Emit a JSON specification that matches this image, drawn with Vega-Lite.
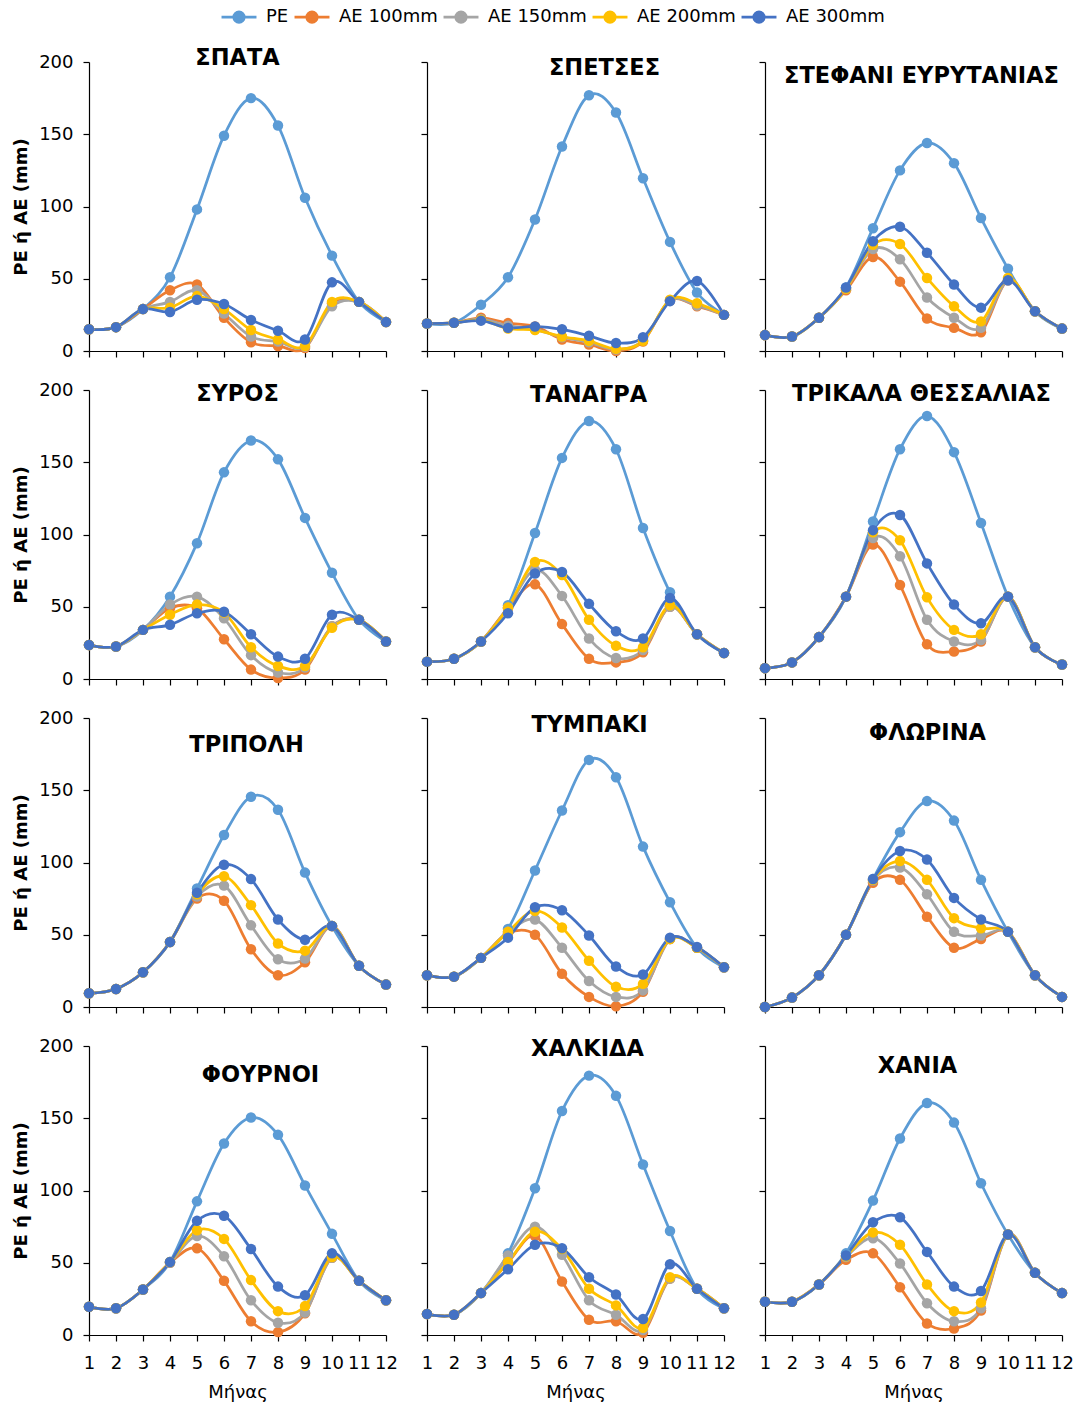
{
"$schema": "https://vega.github.io/schema/vega-lite/v6.json",
"background": "white",
"padding": {"left": 12, "top": 4, "right": 6, "bottom": 4},
"datasets": {"d": [
{"st":"ΣΠΑΤΑ","k":"PE","m":1,"v":15},{"st":"ΣΠΑΤΑ","k":"PE","m":2,"v":16.5},{"st":"ΣΠΑΤΑ","k":"PE","m":3,"v":29},{"st":"ΣΠΑΤΑ","k":"PE","m":4,"v":51},{"st":"ΣΠΑΤΑ","k":"PE","m":5,"v":98},{"st":"ΣΠΑΤΑ","k":"PE","m":6,"v":149},{"st":"ΣΠΑΤΑ","k":"PE","m":7,"v":175},{"st":"ΣΠΑΤΑ","k":"PE","m":8,"v":156},{"st":"ΣΠΑΤΑ","k":"PE","m":9,"v":106},{"st":"ΣΠΑΤΑ","k":"PE","m":10,"v":66},{"st":"ΣΠΑΤΑ","k":"PE","m":11,"v":34},{"st":"ΣΠΑΤΑ","k":"PE","m":12,"v":20},
{"st":"ΣΠΑΤΑ","k":"AE 100mm","m":1,"v":15},{"st":"ΣΠΑΤΑ","k":"AE 100mm","m":2,"v":16.5},{"st":"ΣΠΑΤΑ","k":"AE 100mm","m":3,"v":29},{"st":"ΣΠΑΤΑ","k":"AE 100mm","m":4,"v":42},{"st":"ΣΠΑΤΑ","k":"AE 100mm","m":5,"v":46},{"st":"ΣΠΑΤΑ","k":"AE 100mm","m":6,"v":23},{"st":"ΣΠΑΤΑ","k":"AE 100mm","m":7,"v":6},{"st":"ΣΠΑΤΑ","k":"AE 100mm","m":8,"v":3.5},{"st":"ΣΠΑΤΑ","k":"AE 100mm","m":9,"v":2},{"st":"ΣΠΑΤΑ","k":"AE 100mm","m":10,"v":33},{"st":"ΣΠΑΤΑ","k":"AE 100mm","m":11,"v":34},{"st":"ΣΠΑΤΑ","k":"AE 100mm","m":12,"v":20},
{"st":"ΣΠΑΤΑ","k":"AE 150mm","m":1,"v":15},{"st":"ΣΠΑΤΑ","k":"AE 150mm","m":2,"v":16.5},{"st":"ΣΠΑΤΑ","k":"AE 150mm","m":3,"v":29},{"st":"ΣΠΑΤΑ","k":"AE 150mm","m":4,"v":34},{"st":"ΣΠΑΤΑ","k":"AE 150mm","m":5,"v":42},{"st":"ΣΠΑΤΑ","k":"AE 150mm","m":6,"v":26},{"st":"ΣΠΑΤΑ","k":"AE 150mm","m":7,"v":10},{"st":"ΣΠΑΤΑ","k":"AE 150mm","m":8,"v":6.5},{"st":"ΣΠΑΤΑ","k":"AE 150mm","m":9,"v":3},{"st":"ΣΠΑΤΑ","k":"AE 150mm","m":10,"v":31},{"st":"ΣΠΑΤΑ","k":"AE 150mm","m":11,"v":34},{"st":"ΣΠΑΤΑ","k":"AE 150mm","m":12,"v":20},
{"st":"ΣΠΑΤΑ","k":"AE 200mm","m":1,"v":15},{"st":"ΣΠΑΤΑ","k":"AE 200mm","m":2,"v":16.5},{"st":"ΣΠΑΤΑ","k":"AE 200mm","m":3,"v":29},{"st":"ΣΠΑΤΑ","k":"AE 200mm","m":4,"v":30},{"st":"ΣΠΑΤΑ","k":"AE 200mm","m":5,"v":38},{"st":"ΣΠΑΤΑ","k":"AE 200mm","m":6,"v":29},{"st":"ΣΠΑΤΑ","k":"AE 200mm","m":7,"v":14.5},{"st":"ΣΠΑΤΑ","k":"AE 200mm","m":8,"v":8},{"st":"ΣΠΑΤΑ","k":"AE 200mm","m":9,"v":3.5},{"st":"ΣΠΑΤΑ","k":"AE 200mm","m":10,"v":34},{"st":"ΣΠΑΤΑ","k":"AE 200mm","m":11,"v":34},{"st":"ΣΠΑΤΑ","k":"AE 200mm","m":12,"v":20},
{"st":"ΣΠΑΤΑ","k":"AE 300mm","m":1,"v":15},{"st":"ΣΠΑΤΑ","k":"AE 300mm","m":2,"v":16.5},{"st":"ΣΠΑΤΑ","k":"AE 300mm","m":3,"v":29},{"st":"ΣΠΑΤΑ","k":"AE 300mm","m":4,"v":27},{"st":"ΣΠΑΤΑ","k":"AE 300mm","m":5,"v":35.5},{"st":"ΣΠΑΤΑ","k":"AE 300mm","m":6,"v":32.5},{"st":"ΣΠΑΤΑ","k":"AE 300mm","m":7,"v":21.5},{"st":"ΣΠΑΤΑ","k":"AE 300mm","m":8,"v":14},{"st":"ΣΠΑΤΑ","k":"AE 300mm","m":9,"v":8},{"st":"ΣΠΑΤΑ","k":"AE 300mm","m":10,"v":47.5},{"st":"ΣΠΑΤΑ","k":"AE 300mm","m":11,"v":34},{"st":"ΣΠΑΤΑ","k":"AE 300mm","m":12,"v":20},

{"st":"ΣΠΕΤΣΕΣ","k":"PE","m":1,"v":19},{"st":"ΣΠΕΤΣΕΣ","k":"PE","m":2,"v":19.5},{"st":"ΣΠΕΤΣΕΣ","k":"PE","m":3,"v":32},{"st":"ΣΠΕΤΣΕΣ","k":"PE","m":4,"v":51},{"st":"ΣΠΕΤΣΕΣ","k":"PE","m":5,"v":91},{"st":"ΣΠΕΤΣΕΣ","k":"PE","m":6,"v":141.5},{"st":"ΣΠΕΤΣΕΣ","k":"PE","m":7,"v":177},{"st":"ΣΠΕΤΣΕΣ","k":"PE","m":8,"v":165},{"st":"ΣΠΕΤΣΕΣ","k":"PE","m":9,"v":119.5},{"st":"ΣΠΕΤΣΕΣ","k":"PE","m":10,"v":75.5},{"st":"ΣΠΕΤΣΕΣ","k":"PE","m":11,"v":40.5},{"st":"ΣΠΕΤΣΕΣ","k":"PE","m":12,"v":25},
{"st":"ΣΠΕΤΣΕΣ","k":"AE 100mm","m":1,"v":19},{"st":"ΣΠΕΤΣΕΣ","k":"AE 100mm","m":2,"v":19.5},{"st":"ΣΠΕΤΣΕΣ","k":"AE 100mm","m":3,"v":23},{"st":"ΣΠΕΤΣΕΣ","k":"AE 100mm","m":4,"v":19.3},{"st":"ΣΠΕΤΣΕΣ","k":"AE 100mm","m":5,"v":17},{"st":"ΣΠΕΤΣΕΣ","k":"AE 100mm","m":6,"v":8},{"st":"ΣΠΕΤΣΕΣ","k":"AE 100mm","m":7,"v":4.5},{"st":"ΣΠΕΤΣΕΣ","k":"AE 100mm","m":8,"v":0},{"st":"ΣΠΕΤΣΕΣ","k":"AE 100mm","m":9,"v":6.5},{"st":"ΣΠΕΤΣΕΣ","k":"AE 100mm","m":10,"v":35},{"st":"ΣΠΕΤΣΕΣ","k":"AE 100mm","m":11,"v":31},{"st":"ΣΠΕΤΣΕΣ","k":"AE 100mm","m":12,"v":25},
{"st":"ΣΠΕΤΣΕΣ","k":"AE 150mm","m":1,"v":19},{"st":"ΣΠΕΤΣΕΣ","k":"AE 150mm","m":2,"v":19.5},{"st":"ΣΠΕΤΣΕΣ","k":"AE 150mm","m":3,"v":22},{"st":"ΣΠΕΤΣΕΣ","k":"AE 150mm","m":4,"v":17.5},{"st":"ΣΠΕΤΣΕΣ","k":"AE 150mm","m":5,"v":15},{"st":"ΣΠΕΤΣΕΣ","k":"AE 150mm","m":6,"v":9.5},{"st":"ΣΠΕΤΣΕΣ","k":"AE 150mm","m":7,"v":6},{"st":"ΣΠΕΤΣΕΣ","k":"AE 150mm","m":8,"v":1},{"st":"ΣΠΕΤΣΕΣ","k":"AE 150mm","m":9,"v":7.5},{"st":"ΣΠΕΤΣΕΣ","k":"AE 150mm","m":10,"v":35},{"st":"ΣΠΕΤΣΕΣ","k":"AE 150mm","m":11,"v":31.5},{"st":"ΣΠΕΤΣΕΣ","k":"AE 150mm","m":12,"v":25},
{"st":"ΣΠΕΤΣΕΣ","k":"AE 200mm","m":1,"v":19},{"st":"ΣΠΕΤΣΕΣ","k":"AE 200mm","m":2,"v":19.5},{"st":"ΣΠΕΤΣΕΣ","k":"AE 200mm","m":3,"v":21.5},{"st":"ΣΠΕΤΣΕΣ","k":"AE 200mm","m":4,"v":15.5},{"st":"ΣΠΕΤΣΕΣ","k":"AE 200mm","m":5,"v":14.5},{"st":"ΣΠΕΤΣΕΣ","k":"AE 200mm","m":6,"v":10},{"st":"ΣΠΕΤΣΕΣ","k":"AE 200mm","m":7,"v":7},{"st":"ΣΠΕΤΣΕΣ","k":"AE 200mm","m":8,"v":1.5},{"st":"ΣΠΕΤΣΕΣ","k":"AE 200mm","m":9,"v":7},{"st":"ΣΠΕΤΣΕΣ","k":"AE 200mm","m":10,"v":35.5},{"st":"ΣΠΕΤΣΕΣ","k":"AE 200mm","m":11,"v":33},{"st":"ΣΠΕΤΣΕΣ","k":"AE 200mm","m":12,"v":25},
{"st":"ΣΠΕΤΣΕΣ","k":"AE 300mm","m":1,"v":19},{"st":"ΣΠΕΤΣΕΣ","k":"AE 300mm","m":2,"v":19.5},{"st":"ΣΠΕΤΣΕΣ","k":"AE 300mm","m":3,"v":21},{"st":"ΣΠΕΤΣΕΣ","k":"AE 300mm","m":4,"v":16},{"st":"ΣΠΕΤΣΕΣ","k":"AE 300mm","m":5,"v":17},{"st":"ΣΠΕΤΣΕΣ","k":"AE 300mm","m":6,"v":15},{"st":"ΣΠΕΤΣΕΣ","k":"AE 300mm","m":7,"v":10.5},{"st":"ΣΠΕΤΣΕΣ","k":"AE 300mm","m":8,"v":5.5},{"st":"ΣΠΕΤΣΕΣ","k":"AE 300mm","m":9,"v":9.5},{"st":"ΣΠΕΤΣΕΣ","k":"AE 300mm","m":10,"v":34.5},{"st":"ΣΠΕΤΣΕΣ","k":"AE 300mm","m":11,"v":48.5},{"st":"ΣΠΕΤΣΕΣ","k":"AE 300mm","m":12,"v":25},

{"st":"ΣΤΕΦΑΝΙ ΕΥΡΥΤΑΝΙΑΣ","k":"PE","m":1,"v":11},{"st":"ΣΤΕΦΑΝΙ ΕΥΡΥΤΑΝΙΑΣ","k":"PE","m":2,"v":10},{"st":"ΣΤΕΦΑΝΙ ΕΥΡΥΤΑΝΙΑΣ","k":"PE","m":3,"v":23},{"st":"ΣΤΕΦΑΝΙ ΕΥΡΥΤΑΝΙΑΣ","k":"PE","m":4,"v":44},{"st":"ΣΤΕΦΑΝΙ ΕΥΡΥΤΑΝΙΑΣ","k":"PE","m":5,"v":85},{"st":"ΣΤΕΦΑΝΙ ΕΥΡΥΤΑΝΙΑΣ","k":"PE","m":6,"v":125},{"st":"ΣΤΕΦΑΝΙ ΕΥΡΥΤΑΝΙΑΣ","k":"PE","m":7,"v":144},{"st":"ΣΤΕΦΑΝΙ ΕΥΡΥΤΑΝΙΑΣ","k":"PE","m":8,"v":130},{"st":"ΣΤΕΦΑΝΙ ΕΥΡΥΤΑΝΙΑΣ","k":"PE","m":9,"v":92},{"st":"ΣΤΕΦΑΝΙ ΕΥΡΥΤΑΝΙΑΣ","k":"PE","m":10,"v":57},{"st":"ΣΤΕΦΑΝΙ ΕΥΡΥΤΑΝΙΑΣ","k":"PE","m":11,"v":27.5},{"st":"ΣΤΕΦΑΝΙ ΕΥΡΥΤΑΝΙΑΣ","k":"PE","m":12,"v":15.5},
{"st":"ΣΤΕΦΑΝΙ ΕΥΡΥΤΑΝΙΑΣ","k":"AE 100mm","m":1,"v":11},{"st":"ΣΤΕΦΑΝΙ ΕΥΡΥΤΑΝΙΑΣ","k":"AE 100mm","m":2,"v":10},{"st":"ΣΤΕΦΑΝΙ ΕΥΡΥΤΑΝΙΑΣ","k":"AE 100mm","m":3,"v":23},{"st":"ΣΤΕΦΑΝΙ ΕΥΡΥΤΑΝΙΑΣ","k":"AE 100mm","m":4,"v":42},{"st":"ΣΤΕΦΑΝΙ ΕΥΡΥΤΑΝΙΑΣ","k":"AE 100mm","m":5,"v":65},{"st":"ΣΤΕΦΑΝΙ ΕΥΡΥΤΑΝΙΑΣ","k":"AE 100mm","m":6,"v":48},{"st":"ΣΤΕΦΑΝΙ ΕΥΡΥΤΑΝΙΑΣ","k":"AE 100mm","m":7,"v":22.5},{"st":"ΣΤΕΦΑΝΙ ΕΥΡΥΤΑΝΙΑΣ","k":"AE 100mm","m":8,"v":16},{"st":"ΣΤΕΦΑΝΙ ΕΥΡΥΤΑΝΙΑΣ","k":"AE 100mm","m":9,"v":13},{"st":"ΣΤΕΦΑΝΙ ΕΥΡΥΤΑΝΙΑΣ","k":"AE 100mm","m":10,"v":49},{"st":"ΣΤΕΦΑΝΙ ΕΥΡΥΤΑΝΙΑΣ","k":"AE 100mm","m":11,"v":27.5},{"st":"ΣΤΕΦΑΝΙ ΕΥΡΥΤΑΝΙΑΣ","k":"AE 100mm","m":12,"v":15.5},
{"st":"ΣΤΕΦΑΝΙ ΕΥΡΥΤΑΝΙΑΣ","k":"AE 150mm","m":1,"v":11},{"st":"ΣΤΕΦΑΝΙ ΕΥΡΥΤΑΝΙΑΣ","k":"AE 150mm","m":2,"v":10},{"st":"ΣΤΕΦΑΝΙ ΕΥΡΥΤΑΝΙΑΣ","k":"AE 150mm","m":3,"v":23},{"st":"ΣΤΕΦΑΝΙ ΕΥΡΥΤΑΝΙΑΣ","k":"AE 150mm","m":4,"v":43},{"st":"ΣΤΕΦΑΝΙ ΕΥΡΥΤΑΝΙΑΣ","k":"AE 150mm","m":5,"v":70.5},{"st":"ΣΤΕΦΑΝΙ ΕΥΡΥΤΑΝΙΑΣ","k":"AE 150mm","m":6,"v":63.5},{"st":"ΣΤΕΦΑΝΙ ΕΥΡΥΤΑΝΙΑΣ","k":"AE 150mm","m":7,"v":37},{"st":"ΣΤΕΦΑΝΙ ΕΥΡΥΤΑΝΙΑΣ","k":"AE 150mm","m":8,"v":23},{"st":"ΣΤΕΦΑΝΙ ΕΥΡΥΤΑΝΙΑΣ","k":"AE 150mm","m":9,"v":16},{"st":"ΣΤΕΦΑΝΙ ΕΥΡΥΤΑΝΙΑΣ","k":"AE 150mm","m":10,"v":49},{"st":"ΣΤΕΦΑΝΙ ΕΥΡΥΤΑΝΙΑΣ","k":"AE 150mm","m":11,"v":27.5},{"st":"ΣΤΕΦΑΝΙ ΕΥΡΥΤΑΝΙΑΣ","k":"AE 150mm","m":12,"v":15.5},
{"st":"ΣΤΕΦΑΝΙ ΕΥΡΥΤΑΝΙΑΣ","k":"AE 200mm","m":1,"v":11},{"st":"ΣΤΕΦΑΝΙ ΕΥΡΥΤΑΝΙΑΣ","k":"AE 200mm","m":2,"v":10},{"st":"ΣΤΕΦΑΝΙ ΕΥΡΥΤΑΝΙΑΣ","k":"AE 200mm","m":3,"v":23},{"st":"ΣΤΕΦΑΝΙ ΕΥΡΥΤΑΝΙΑΣ","k":"AE 200mm","m":4,"v":43},{"st":"ΣΤΕΦΑΝΙ ΕΥΡΥΤΑΝΙΑΣ","k":"AE 200mm","m":5,"v":73.5},{"st":"ΣΤΕΦΑΝΙ ΕΥΡΥΤΑΝΙΑΣ","k":"AE 200mm","m":6,"v":74},{"st":"ΣΤΕΦΑΝΙ ΕΥΡΥΤΑΝΙΑΣ","k":"AE 200mm","m":7,"v":50.5},{"st":"ΣΤΕΦΑΝΙ ΕΥΡΥΤΑΝΙΑΣ","k":"AE 200mm","m":8,"v":31},{"st":"ΣΤΕΦΑΝΙ ΕΥΡΥΤΑΝΙΑΣ","k":"AE 200mm","m":9,"v":20.5},{"st":"ΣΤΕΦΑΝΙ ΕΥΡΥΤΑΝΙΑΣ","k":"AE 200mm","m":10,"v":50.5},{"st":"ΣΤΕΦΑΝΙ ΕΥΡΥΤΑΝΙΑΣ","k":"AE 200mm","m":11,"v":27.5},{"st":"ΣΤΕΦΑΝΙ ΕΥΡΥΤΑΝΙΑΣ","k":"AE 200mm","m":12,"v":15.5},
{"st":"ΣΤΕΦΑΝΙ ΕΥΡΥΤΑΝΙΑΣ","k":"AE 300mm","m":1,"v":11},{"st":"ΣΤΕΦΑΝΙ ΕΥΡΥΤΑΝΙΑΣ","k":"AE 300mm","m":2,"v":10},{"st":"ΣΤΕΦΑΝΙ ΕΥΡΥΤΑΝΙΑΣ","k":"AE 300mm","m":3,"v":23},{"st":"ΣΤΕΦΑΝΙ ΕΥΡΥΤΑΝΙΑΣ","k":"AE 300mm","m":4,"v":44},{"st":"ΣΤΕΦΑΝΙ ΕΥΡΥΤΑΝΙΑΣ","k":"AE 300mm","m":5,"v":76},{"st":"ΣΤΕΦΑΝΙ ΕΥΡΥΤΑΝΙΑΣ","k":"AE 300mm","m":6,"v":86},{"st":"ΣΤΕΦΑΝΙ ΕΥΡΥΤΑΝΙΑΣ","k":"AE 300mm","m":7,"v":68},{"st":"ΣΤΕΦΑΝΙ ΕΥΡΥΤΑΝΙΑΣ","k":"AE 300mm","m":8,"v":46},{"st":"ΣΤΕΦΑΝΙ ΕΥΡΥΤΑΝΙΑΣ","k":"AE 300mm","m":9,"v":30},{"st":"ΣΤΕΦΑΝΙ ΕΥΡΥΤΑΝΙΑΣ","k":"AE 300mm","m":10,"v":49},{"st":"ΣΤΕΦΑΝΙ ΕΥΡΥΤΑΝΙΑΣ","k":"AE 300mm","m":11,"v":27.5},{"st":"ΣΤΕΦΑΝΙ ΕΥΡΥΤΑΝΙΑΣ","k":"AE 300mm","m":12,"v":15.5},

{"st":"ΣΥΡΟΣ","k":"PE","m":1,"v":23.5},{"st":"ΣΥΡΟΣ","k":"PE","m":2,"v":22.5},{"st":"ΣΥΡΟΣ","k":"PE","m":3,"v":34},{"st":"ΣΥΡΟΣ","k":"PE","m":4,"v":57},{"st":"ΣΥΡΟΣ","k":"PE","m":5,"v":94},{"st":"ΣΥΡΟΣ","k":"PE","m":6,"v":143},{"st":"ΣΥΡΟΣ","k":"PE","m":7,"v":165},{"st":"ΣΥΡΟΣ","k":"PE","m":8,"v":152},{"st":"ΣΥΡΟΣ","k":"PE","m":9,"v":111.5},{"st":"ΣΥΡΟΣ","k":"PE","m":10,"v":73.5},{"st":"ΣΥΡΟΣ","k":"PE","m":11,"v":41},{"st":"ΣΥΡΟΣ","k":"PE","m":12,"v":26},
{"st":"ΣΥΡΟΣ","k":"AE 100mm","m":1,"v":23.5},{"st":"ΣΥΡΟΣ","k":"AE 100mm","m":2,"v":22.5},{"st":"ΣΥΡΟΣ","k":"AE 100mm","m":3,"v":34},{"st":"ΣΥΡΟΣ","k":"AE 100mm","m":4,"v":49},{"st":"ΣΥΡΟΣ","k":"AE 100mm","m":5,"v":49},{"st":"ΣΥΡΟΣ","k":"AE 100mm","m":6,"v":27.5},{"st":"ΣΥΡΟΣ","k":"AE 100mm","m":7,"v":6.5},{"st":"ΣΥΡΟΣ","k":"AE 100mm","m":8,"v":0.7},{"st":"ΣΥΡΟΣ","k":"AE 100mm","m":9,"v":6.5},{"st":"ΣΥΡΟΣ","k":"AE 100mm","m":10,"v":36.5},{"st":"ΣΥΡΟΣ","k":"AE 100mm","m":11,"v":41},{"st":"ΣΥΡΟΣ","k":"AE 100mm","m":12,"v":26},
{"st":"ΣΥΡΟΣ","k":"AE 150mm","m":1,"v":23.5},{"st":"ΣΥΡΟΣ","k":"AE 150mm","m":2,"v":22.5},{"st":"ΣΥΡΟΣ","k":"AE 150mm","m":3,"v":34},{"st":"ΣΥΡΟΣ","k":"AE 150mm","m":4,"v":51.5},{"st":"ΣΥΡΟΣ","k":"AE 150mm","m":5,"v":57},{"st":"ΣΥΡΟΣ","k":"AE 150mm","m":6,"v":42},{"st":"ΣΥΡΟΣ","k":"AE 150mm","m":7,"v":16.5},{"st":"ΣΥΡΟΣ","k":"AE 150mm","m":8,"v":4.5},{"st":"ΣΥΡΟΣ","k":"AE 150mm","m":9,"v":8},{"st":"ΣΥΡΟΣ","k":"AE 150mm","m":10,"v":36.5},{"st":"ΣΥΡΟΣ","k":"AE 150mm","m":11,"v":41},{"st":"ΣΥΡΟΣ","k":"AE 150mm","m":12,"v":26},
{"st":"ΣΥΡΟΣ","k":"AE 200mm","m":1,"v":23.5},{"st":"ΣΥΡΟΣ","k":"AE 200mm","m":2,"v":22.5},{"st":"ΣΥΡΟΣ","k":"AE 200mm","m":3,"v":34},{"st":"ΣΥΡΟΣ","k":"AE 200mm","m":4,"v":44.5},{"st":"ΣΥΡΟΣ","k":"AE 200mm","m":5,"v":51.5},{"st":"ΣΥΡΟΣ","k":"AE 200mm","m":6,"v":46},{"st":"ΣΥΡΟΣ","k":"AE 200mm","m":7,"v":22},{"st":"ΣΥΡΟΣ","k":"AE 200mm","m":8,"v":9},{"st":"ΣΥΡΟΣ","k":"AE 200mm","m":9,"v":9},{"st":"ΣΥΡΟΣ","k":"AE 200mm","m":10,"v":35.5},{"st":"ΣΥΡΟΣ","k":"AE 200mm","m":11,"v":41},{"st":"ΣΥΡΟΣ","k":"AE 200mm","m":12,"v":26},
{"st":"ΣΥΡΟΣ","k":"AE 300mm","m":1,"v":23.5},{"st":"ΣΥΡΟΣ","k":"AE 300mm","m":2,"v":22.5},{"st":"ΣΥΡΟΣ","k":"AE 300mm","m":3,"v":34},{"st":"ΣΥΡΟΣ","k":"AE 300mm","m":4,"v":37.5},{"st":"ΣΥΡΟΣ","k":"AE 300mm","m":5,"v":45.5},{"st":"ΣΥΡΟΣ","k":"AE 300mm","m":6,"v":46.5},{"st":"ΣΥΡΟΣ","k":"AE 300mm","m":7,"v":31},{"st":"ΣΥΡΟΣ","k":"AE 300mm","m":8,"v":15.5},{"st":"ΣΥΡΟΣ","k":"AE 300mm","m":9,"v":14},{"st":"ΣΥΡΟΣ","k":"AE 300mm","m":10,"v":44.5},{"st":"ΣΥΡΟΣ","k":"AE 300mm","m":11,"v":41},{"st":"ΣΥΡΟΣ","k":"AE 300mm","m":12,"v":26},

{"st":"ΤΑΝΑΓΡΑ","k":"PE","m":1,"v":12},{"st":"ΤΑΝΑΓΡΑ","k":"PE","m":2,"v":14},{"st":"ΤΑΝΑΓΡΑ","k":"PE","m":3,"v":26},{"st":"ΤΑΝΑΓΡΑ","k":"PE","m":4,"v":51},{"st":"ΤΑΝΑΓΡΑ","k":"PE","m":5,"v":101},{"st":"ΤΑΝΑΓΡΑ","k":"PE","m":6,"v":153},{"st":"ΤΑΝΑΓΡΑ","k":"PE","m":7,"v":178.5},{"st":"ΤΑΝΑΓΡΑ","k":"PE","m":8,"v":159},{"st":"ΤΑΝΑΓΡΑ","k":"PE","m":9,"v":104.5},{"st":"ΤΑΝΑΓΡΑ","k":"PE","m":10,"v":60},{"st":"ΤΑΝΑΓΡΑ","k":"PE","m":11,"v":31},{"st":"ΤΑΝΑΓΡΑ","k":"PE","m":12,"v":18},
{"st":"ΤΑΝΑΓΡΑ","k":"AE 100mm","m":1,"v":12},{"st":"ΤΑΝΑΓΡΑ","k":"AE 100mm","m":2,"v":14},{"st":"ΤΑΝΑΓΡΑ","k":"AE 100mm","m":3,"v":26},{"st":"ΤΑΝΑΓΡΑ","k":"AE 100mm","m":4,"v":49},{"st":"ΤΑΝΑΓΡΑ","k":"AE 100mm","m":5,"v":65.5},{"st":"ΤΑΝΑΓΡΑ","k":"AE 100mm","m":6,"v":38},{"st":"ΤΑΝΑΓΡΑ","k":"AE 100mm","m":7,"v":14},{"st":"ΤΑΝΑΓΡΑ","k":"AE 100mm","m":8,"v":11.5},{"st":"ΤΑΝΑΓΡΑ","k":"AE 100mm","m":9,"v":18.5},{"st":"ΤΑΝΑΓΡΑ","k":"AE 100mm","m":10,"v":50},{"st":"ΤΑΝΑΓΡΑ","k":"AE 100mm","m":11,"v":31},{"st":"ΤΑΝΑΓΡΑ","k":"AE 100mm","m":12,"v":18},
{"st":"ΤΑΝΑΓΡΑ","k":"AE 150mm","m":1,"v":12},{"st":"ΤΑΝΑΓΡΑ","k":"AE 150mm","m":2,"v":14},{"st":"ΤΑΝΑΓΡΑ","k":"AE 150mm","m":3,"v":26},{"st":"ΤΑΝΑΓΡΑ","k":"AE 150mm","m":4,"v":49.5},{"st":"ΤΑΝΑΓΡΑ","k":"AE 150mm","m":5,"v":75.5},{"st":"ΤΑΝΑΓΡΑ","k":"AE 150mm","m":6,"v":57.5},{"st":"ΤΑΝΑΓΡΑ","k":"AE 150mm","m":7,"v":28},{"st":"ΤΑΝΑΓΡΑ","k":"AE 150mm","m":8,"v":14.5},{"st":"ΤΑΝΑΓΡΑ","k":"AE 150mm","m":9,"v":20},{"st":"ΤΑΝΑΓΡΑ","k":"AE 150mm","m":10,"v":50},{"st":"ΤΑΝΑΓΡΑ","k":"AE 150mm","m":11,"v":31},{"st":"ΤΑΝΑΓΡΑ","k":"AE 150mm","m":12,"v":18},
{"st":"ΤΑΝΑΓΡΑ","k":"AE 200mm","m":1,"v":12},{"st":"ΤΑΝΑΓΡΑ","k":"AE 200mm","m":2,"v":14},{"st":"ΤΑΝΑΓΡΑ","k":"AE 200mm","m":3,"v":26},{"st":"ΤΑΝΑΓΡΑ","k":"AE 200mm","m":4,"v":49.5},{"st":"ΤΑΝΑΓΡΑ","k":"AE 200mm","m":5,"v":81},{"st":"ΤΑΝΑΓΡΑ","k":"AE 200mm","m":6,"v":72},{"st":"ΤΑΝΑΓΡΑ","k":"AE 200mm","m":7,"v":41},{"st":"ΤΑΝΑΓΡΑ","k":"AE 200mm","m":8,"v":23},{"st":"ΤΑΝΑΓΡΑ","k":"AE 200mm","m":9,"v":22},{"st":"ΤΑΝΑΓΡΑ","k":"AE 200mm","m":10,"v":51},{"st":"ΤΑΝΑΓΡΑ","k":"AE 200mm","m":11,"v":31},{"st":"ΤΑΝΑΓΡΑ","k":"AE 200mm","m":12,"v":18},
{"st":"ΤΑΝΑΓΡΑ","k":"AE 300mm","m":1,"v":12},{"st":"ΤΑΝΑΓΡΑ","k":"AE 300mm","m":2,"v":14},{"st":"ΤΑΝΑΓΡΑ","k":"AE 300mm","m":3,"v":26},{"st":"ΤΑΝΑΓΡΑ","k":"AE 300mm","m":4,"v":45.5},{"st":"ΤΑΝΑΓΡΑ","k":"AE 300mm","m":5,"v":73},{"st":"ΤΑΝΑΓΡΑ","k":"AE 300mm","m":6,"v":74},{"st":"ΤΑΝΑΓΡΑ","k":"AE 300mm","m":7,"v":52},{"st":"ΤΑΝΑΓΡΑ","k":"AE 300mm","m":8,"v":33},{"st":"ΤΑΝΑΓΡΑ","k":"AE 300mm","m":9,"v":28},{"st":"ΤΑΝΑΓΡΑ","k":"AE 300mm","m":10,"v":56},{"st":"ΤΑΝΑΓΡΑ","k":"AE 300mm","m":11,"v":31},{"st":"ΤΑΝΑΓΡΑ","k":"AE 300mm","m":12,"v":18},

{"st":"ΤΡΙΚΑΛΑ ΘΕΣΣΑΛΙΑΣ","k":"PE","m":1,"v":7.5},{"st":"ΤΡΙΚΑΛΑ ΘΕΣΣΑΛΙΑΣ","k":"PE","m":2,"v":11.5},{"st":"ΤΡΙΚΑΛΑ ΘΕΣΣΑΛΙΑΣ","k":"PE","m":3,"v":29},{"st":"ΤΡΙΚΑΛΑ ΘΕΣΣΑΛΙΑΣ","k":"PE","m":4,"v":57},{"st":"ΤΡΙΚΑΛΑ ΘΕΣΣΑΛΙΑΣ","k":"PE","m":5,"v":109},{"st":"ΤΡΙΚΑΛΑ ΘΕΣΣΑΛΙΑΣ","k":"PE","m":6,"v":159},{"st":"ΤΡΙΚΑΛΑ ΘΕΣΣΑΛΙΑΣ","k":"PE","m":7,"v":182},{"st":"ΤΡΙΚΑΛΑ ΘΕΣΣΑΛΙΑΣ","k":"PE","m":8,"v":157},{"st":"ΤΡΙΚΑΛΑ ΘΕΣΣΑΛΙΑΣ","k":"PE","m":9,"v":108},{"st":"ΤΡΙΚΑΛΑ ΘΕΣΣΑΛΙΑΣ","k":"PE","m":10,"v":57},{"st":"ΤΡΙΚΑΛΑ ΘΕΣΣΑΛΙΑΣ","k":"PE","m":11,"v":22},{"st":"ΤΡΙΚΑΛΑ ΘΕΣΣΑΛΙΑΣ","k":"PE","m":12,"v":10},
{"st":"ΤΡΙΚΑΛΑ ΘΕΣΣΑΛΙΑΣ","k":"AE 100mm","m":1,"v":7.5},{"st":"ΤΡΙΚΑΛΑ ΘΕΣΣΑΛΙΑΣ","k":"AE 100mm","m":2,"v":11.5},{"st":"ΤΡΙΚΑΛΑ ΘΕΣΣΑΛΙΑΣ","k":"AE 100mm","m":3,"v":29},{"st":"ΤΡΙΚΑΛΑ ΘΕΣΣΑΛΙΑΣ","k":"AE 100mm","m":4,"v":57},{"st":"ΤΡΙΚΑΛΑ ΘΕΣΣΑΛΙΑΣ","k":"AE 100mm","m":5,"v":93},{"st":"ΤΡΙΚΑΛΑ ΘΕΣΣΑΛΙΑΣ","k":"AE 100mm","m":6,"v":65},{"st":"ΤΡΙΚΑΛΑ ΘΕΣΣΑΛΙΑΣ","k":"AE 100mm","m":7,"v":24},{"st":"ΤΡΙΚΑΛΑ ΘΕΣΣΑΛΙΑΣ","k":"AE 100mm","m":8,"v":19},{"st":"ΤΡΙΚΑΛΑ ΘΕΣΣΑΛΙΑΣ","k":"AE 100mm","m":9,"v":26},{"st":"ΤΡΙΚΑΛΑ ΘΕΣΣΑΛΙΑΣ","k":"AE 100mm","m":10,"v":57},{"st":"ΤΡΙΚΑΛΑ ΘΕΣΣΑΛΙΑΣ","k":"AE 100mm","m":11,"v":22},{"st":"ΤΡΙΚΑΛΑ ΘΕΣΣΑΛΙΑΣ","k":"AE 100mm","m":12,"v":10},
{"st":"ΤΡΙΚΑΛΑ ΘΕΣΣΑΛΙΑΣ","k":"AE 150mm","m":1,"v":7.5},{"st":"ΤΡΙΚΑΛΑ ΘΕΣΣΑΛΙΑΣ","k":"AE 150mm","m":2,"v":11.5},{"st":"ΤΡΙΚΑΛΑ ΘΕΣΣΑΛΙΑΣ","k":"AE 150mm","m":3,"v":29},{"st":"ΤΡΙΚΑΛΑ ΘΕΣΣΑΛΙΑΣ","k":"AE 150mm","m":4,"v":57},{"st":"ΤΡΙΚΑΛΑ ΘΕΣΣΑΛΙΑΣ","k":"AE 150mm","m":5,"v":97.5},{"st":"ΤΡΙΚΑΛΑ ΘΕΣΣΑΛΙΑΣ","k":"AE 150mm","m":6,"v":85},{"st":"ΤΡΙΚΑΛΑ ΘΕΣΣΑΛΙΑΣ","k":"AE 150mm","m":7,"v":41},{"st":"ΤΡΙΚΑΛΑ ΘΕΣΣΑΛΙΑΣ","k":"AE 150mm","m":8,"v":26},{"st":"ΤΡΙΚΑΛΑ ΘΕΣΣΑΛΙΑΣ","k":"AE 150mm","m":9,"v":27},{"st":"ΤΡΙΚΑΛΑ ΘΕΣΣΑΛΙΑΣ","k":"AE 150mm","m":10,"v":57},{"st":"ΤΡΙΚΑΛΑ ΘΕΣΣΑΛΙΑΣ","k":"AE 150mm","m":11,"v":22},{"st":"ΤΡΙΚΑΛΑ ΘΕΣΣΑΛΙΑΣ","k":"AE 150mm","m":12,"v":10},
{"st":"ΤΡΙΚΑΛΑ ΘΕΣΣΑΛΙΑΣ","k":"AE 200mm","m":1,"v":7.5},{"st":"ΤΡΙΚΑΛΑ ΘΕΣΣΑΛΙΑΣ","k":"AE 200mm","m":2,"v":11.5},{"st":"ΤΡΙΚΑΛΑ ΘΕΣΣΑΛΙΑΣ","k":"AE 200mm","m":3,"v":29},{"st":"ΤΡΙΚΑΛΑ ΘΕΣΣΑΛΙΑΣ","k":"AE 200mm","m":4,"v":57},{"st":"ΤΡΙΚΑΛΑ ΘΕΣΣΑΛΙΑΣ","k":"AE 200mm","m":5,"v":101.5},{"st":"ΤΡΙΚΑΛΑ ΘΕΣΣΑΛΙΑΣ","k":"AE 200mm","m":6,"v":96},{"st":"ΤΡΙΚΑΛΑ ΘΕΣΣΑΛΙΑΣ","k":"AE 200mm","m":7,"v":56.5},{"st":"ΤΡΙΚΑΛΑ ΘΕΣΣΑΛΙΑΣ","k":"AE 200mm","m":8,"v":34},{"st":"ΤΡΙΚΑΛΑ ΘΕΣΣΑΛΙΑΣ","k":"AE 200mm","m":9,"v":31},{"st":"ΤΡΙΚΑΛΑ ΘΕΣΣΑΛΙΑΣ","k":"AE 200mm","m":10,"v":57},{"st":"ΤΡΙΚΑΛΑ ΘΕΣΣΑΛΙΑΣ","k":"AE 200mm","m":11,"v":22},{"st":"ΤΡΙΚΑΛΑ ΘΕΣΣΑΛΙΑΣ","k":"AE 200mm","m":12,"v":10},
{"st":"ΤΡΙΚΑΛΑ ΘΕΣΣΑΛΙΑΣ","k":"AE 300mm","m":1,"v":7.5},{"st":"ΤΡΙΚΑΛΑ ΘΕΣΣΑΛΙΑΣ","k":"AE 300mm","m":2,"v":11.5},{"st":"ΤΡΙΚΑΛΑ ΘΕΣΣΑΛΙΑΣ","k":"AE 300mm","m":3,"v":29},{"st":"ΤΡΙΚΑΛΑ ΘΕΣΣΑΛΙΑΣ","k":"AE 300mm","m":4,"v":57},{"st":"ΤΡΙΚΑΛΑ ΘΕΣΣΑΛΙΑΣ","k":"AE 300mm","m":5,"v":103},{"st":"ΤΡΙΚΑΛΑ ΘΕΣΣΑΛΙΑΣ","k":"AE 300mm","m":6,"v":113.5},{"st":"ΤΡΙΚΑΛΑ ΘΕΣΣΑΛΙΑΣ","k":"AE 300mm","m":7,"v":80},{"st":"ΤΡΙΚΑΛΑ ΘΕΣΣΑΛΙΑΣ","k":"AE 300mm","m":8,"v":51.5},{"st":"ΤΡΙΚΑΛΑ ΘΕΣΣΑΛΙΑΣ","k":"AE 300mm","m":9,"v":38.5},{"st":"ΤΡΙΚΑΛΑ ΘΕΣΣΑΛΙΑΣ","k":"AE 300mm","m":10,"v":57},{"st":"ΤΡΙΚΑΛΑ ΘΕΣΣΑΛΙΑΣ","k":"AE 300mm","m":11,"v":22},{"st":"ΤΡΙΚΑΛΑ ΘΕΣΣΑΛΙΑΣ","k":"AE 300mm","m":12,"v":10},

{"st":"ΤΡΙΠΟΛΗ","k":"PE","m":1,"v":9.5},{"st":"ΤΡΙΠΟΛΗ","k":"PE","m":2,"v":12.5},{"st":"ΤΡΙΠΟΛΗ","k":"PE","m":3,"v":24},{"st":"ΤΡΙΠΟΛΗ","k":"PE","m":4,"v":45},{"st":"ΤΡΙΠΟΛΗ","k":"PE","m":5,"v":82},{"st":"ΤΡΙΠΟΛΗ","k":"PE","m":6,"v":119},{"st":"ΤΡΙΠΟΛΗ","k":"PE","m":7,"v":145.5},{"st":"ΤΡΙΠΟΛΗ","k":"PE","m":8,"v":136.5},{"st":"ΤΡΙΠΟΛΗ","k":"PE","m":9,"v":93},{"st":"ΤΡΙΠΟΛΗ","k":"PE","m":10,"v":56},{"st":"ΤΡΙΠΟΛΗ","k":"PE","m":11,"v":28.5},{"st":"ΤΡΙΠΟΛΗ","k":"PE","m":12,"v":15.5},
{"st":"ΤΡΙΠΟΛΗ","k":"AE 100mm","m":1,"v":9.5},{"st":"ΤΡΙΠΟΛΗ","k":"AE 100mm","m":2,"v":12.5},{"st":"ΤΡΙΠΟΛΗ","k":"AE 100mm","m":3,"v":24},{"st":"ΤΡΙΠΟΛΗ","k":"AE 100mm","m":4,"v":45},{"st":"ΤΡΙΠΟΛΗ","k":"AE 100mm","m":5,"v":75},{"st":"ΤΡΙΠΟΛΗ","k":"AE 100mm","m":6,"v":73.5},{"st":"ΤΡΙΠΟΛΗ","k":"AE 100mm","m":7,"v":40},{"st":"ΤΡΙΠΟΛΗ","k":"AE 100mm","m":8,"v":22},{"st":"ΤΡΙΠΟΛΗ","k":"AE 100mm","m":9,"v":31},{"st":"ΤΡΙΠΟΛΗ","k":"AE 100mm","m":10,"v":56},{"st":"ΤΡΙΠΟΛΗ","k":"AE 100mm","m":11,"v":28.5},{"st":"ΤΡΙΠΟΛΗ","k":"AE 100mm","m":12,"v":15.5},
{"st":"ΤΡΙΠΟΛΗ","k":"AE 150mm","m":1,"v":9.5},{"st":"ΤΡΙΠΟΛΗ","k":"AE 150mm","m":2,"v":12.5},{"st":"ΤΡΙΠΟΛΗ","k":"AE 150mm","m":3,"v":24},{"st":"ΤΡΙΠΟΛΗ","k":"AE 150mm","m":4,"v":45},{"st":"ΤΡΙΠΟΛΗ","k":"AE 150mm","m":5,"v":76.5},{"st":"ΤΡΙΠΟΛΗ","k":"AE 150mm","m":6,"v":84},{"st":"ΤΡΙΠΟΛΗ","k":"AE 150mm","m":7,"v":56.5},{"st":"ΤΡΙΠΟΛΗ","k":"AE 150mm","m":8,"v":33},{"st":"ΤΡΙΠΟΛΗ","k":"AE 150mm","m":9,"v":33.5},{"st":"ΤΡΙΠΟΛΗ","k":"AE 150mm","m":10,"v":56},{"st":"ΤΡΙΠΟΛΗ","k":"AE 150mm","m":11,"v":28.5},{"st":"ΤΡΙΠΟΛΗ","k":"AE 150mm","m":12,"v":15.5},
{"st":"ΤΡΙΠΟΛΗ","k":"AE 200mm","m":1,"v":9.5},{"st":"ΤΡΙΠΟΛΗ","k":"AE 200mm","m":2,"v":12.5},{"st":"ΤΡΙΠΟΛΗ","k":"AE 200mm","m":3,"v":24},{"st":"ΤΡΙΠΟΛΗ","k":"AE 200mm","m":4,"v":45},{"st":"ΤΡΙΠΟΛΗ","k":"AE 200mm","m":5,"v":78},{"st":"ΤΡΙΠΟΛΗ","k":"AE 200mm","m":6,"v":90.5},{"st":"ΤΡΙΠΟΛΗ","k":"AE 200mm","m":7,"v":70.5},{"st":"ΤΡΙΠΟΛΗ","k":"AE 200mm","m":8,"v":44},{"st":"ΤΡΙΠΟΛΗ","k":"AE 200mm","m":9,"v":39},{"st":"ΤΡΙΠΟΛΗ","k":"AE 200mm","m":10,"v":56},{"st":"ΤΡΙΠΟΛΗ","k":"AE 200mm","m":11,"v":28.5},{"st":"ΤΡΙΠΟΛΗ","k":"AE 200mm","m":12,"v":15.5},
{"st":"ΤΡΙΠΟΛΗ","k":"AE 300mm","m":1,"v":9.5},{"st":"ΤΡΙΠΟΛΗ","k":"AE 300mm","m":2,"v":12.5},{"st":"ΤΡΙΠΟΛΗ","k":"AE 300mm","m":3,"v":24},{"st":"ΤΡΙΠΟΛΗ","k":"AE 300mm","m":4,"v":45},{"st":"ΤΡΙΠΟΛΗ","k":"AE 300mm","m":5,"v":79},{"st":"ΤΡΙΠΟΛΗ","k":"AE 300mm","m":6,"v":98.5},{"st":"ΤΡΙΠΟΛΗ","k":"AE 300mm","m":7,"v":88.5},{"st":"ΤΡΙΠΟΛΗ","k":"AE 300mm","m":8,"v":60.5},{"st":"ΤΡΙΠΟΛΗ","k":"AE 300mm","m":9,"v":46.5},{"st":"ΤΡΙΠΟΛΗ","k":"AE 300mm","m":10,"v":56},{"st":"ΤΡΙΠΟΛΗ","k":"AE 300mm","m":11,"v":28.5},{"st":"ΤΡΙΠΟΛΗ","k":"AE 300mm","m":12,"v":15.5},

{"st":"ΤΥΜΠΑΚΙ","k":"PE","m":1,"v":22},{"st":"ΤΥΜΠΑΚΙ","k":"PE","m":2,"v":21},{"st":"ΤΥΜΠΑΚΙ","k":"PE","m":3,"v":34},{"st":"ΤΥΜΠΑΚΙ","k":"PE","m":4,"v":54},{"st":"ΤΥΜΠΑΚΙ","k":"PE","m":5,"v":94.5},{"st":"ΤΥΜΠΑΚΙ","k":"PE","m":6,"v":136},{"st":"ΤΥΜΠΑΚΙ","k":"PE","m":7,"v":171},{"st":"ΤΥΜΠΑΚΙ","k":"PE","m":8,"v":159},{"st":"ΤΥΜΠΑΚΙ","k":"PE","m":9,"v":111},{"st":"ΤΥΜΠΑΚΙ","k":"PE","m":10,"v":72.5},{"st":"ΤΥΜΠΑΚΙ","k":"PE","m":11,"v":41},{"st":"ΤΥΜΠΑΚΙ","k":"PE","m":12,"v":27.5},
{"st":"ΤΥΜΠΑΚΙ","k":"AE 100mm","m":1,"v":22},{"st":"ΤΥΜΠΑΚΙ","k":"AE 100mm","m":2,"v":21},{"st":"ΤΥΜΠΑΚΙ","k":"AE 100mm","m":3,"v":34},{"st":"ΤΥΜΠΑΚΙ","k":"AE 100mm","m":4,"v":51},{"st":"ΤΥΜΠΑΚΙ","k":"AE 100mm","m":5,"v":50},{"st":"ΤΥΜΠΑΚΙ","k":"AE 100mm","m":6,"v":23},{"st":"ΤΥΜΠΑΚΙ","k":"AE 100mm","m":7,"v":7},{"st":"ΤΥΜΠΑΚΙ","k":"AE 100mm","m":8,"v":0.5},{"st":"ΤΥΜΠΑΚΙ","k":"AE 100mm","m":9,"v":10.5},{"st":"ΤΥΜΠΑΚΙ","k":"AE 100mm","m":10,"v":47},{"st":"ΤΥΜΠΑΚΙ","k":"AE 100mm","m":11,"v":41},{"st":"ΤΥΜΠΑΚΙ","k":"AE 100mm","m":12,"v":27.5},
{"st":"ΤΥΜΠΑΚΙ","k":"AE 150mm","m":1,"v":22},{"st":"ΤΥΜΠΑΚΙ","k":"AE 150mm","m":2,"v":21},{"st":"ΤΥΜΠΑΚΙ","k":"AE 150mm","m":3,"v":34},{"st":"ΤΥΜΠΑΚΙ","k":"AE 150mm","m":4,"v":52},{"st":"ΤΥΜΠΑΚΙ","k":"AE 150mm","m":5,"v":60.5},{"st":"ΤΥΜΠΑΚΙ","k":"AE 150mm","m":6,"v":41},{"st":"ΤΥΜΠΑΚΙ","k":"AE 150mm","m":7,"v":18},{"st":"ΤΥΜΠΑΚΙ","k":"AE 150mm","m":8,"v":7},{"st":"ΤΥΜΠΑΚΙ","k":"AE 150mm","m":9,"v":11.5},{"st":"ΤΥΜΠΑΚΙ","k":"AE 150mm","m":10,"v":47},{"st":"ΤΥΜΠΑΚΙ","k":"AE 150mm","m":11,"v":41},{"st":"ΤΥΜΠΑΚΙ","k":"AE 150mm","m":12,"v":27.5},
{"st":"ΤΥΜΠΑΚΙ","k":"AE 200mm","m":1,"v":22},{"st":"ΤΥΜΠΑΚΙ","k":"AE 200mm","m":2,"v":21},{"st":"ΤΥΜΠΑΚΙ","k":"AE 200mm","m":3,"v":34},{"st":"ΤΥΜΠΑΚΙ","k":"AE 200mm","m":4,"v":52},{"st":"ΤΥΜΠΑΚΙ","k":"AE 200mm","m":5,"v":66.5},{"st":"ΤΥΜΠΑΚΙ","k":"AE 200mm","m":6,"v":55},{"st":"ΤΥΜΠΑΚΙ","k":"AE 200mm","m":7,"v":32},{"st":"ΤΥΜΠΑΚΙ","k":"AE 200mm","m":8,"v":14},{"st":"ΤΥΜΠΑΚΙ","k":"AE 200mm","m":9,"v":16},{"st":"ΤΥΜΠΑΚΙ","k":"AE 200mm","m":10,"v":47},{"st":"ΤΥΜΠΑΚΙ","k":"AE 200mm","m":11,"v":41},{"st":"ΤΥΜΠΑΚΙ","k":"AE 200mm","m":12,"v":27.5},
{"st":"ΤΥΜΠΑΚΙ","k":"AE 300mm","m":1,"v":22},{"st":"ΤΥΜΠΑΚΙ","k":"AE 300mm","m":2,"v":21},{"st":"ΤΥΜΠΑΚΙ","k":"AE 300mm","m":3,"v":34},{"st":"ΤΥΜΠΑΚΙ","k":"AE 300mm","m":4,"v":48},{"st":"ΤΥΜΠΑΚΙ","k":"AE 300mm","m":5,"v":69},{"st":"ΤΥΜΠΑΚΙ","k":"AE 300mm","m":6,"v":67},{"st":"ΤΥΜΠΑΚΙ","k":"AE 300mm","m":7,"v":49.5},{"st":"ΤΥΜΠΑΚΙ","k":"AE 300mm","m":8,"v":28},{"st":"ΤΥΜΠΑΚΙ","k":"AE 300mm","m":9,"v":22.5},{"st":"ΤΥΜΠΑΚΙ","k":"AE 300mm","m":10,"v":48},{"st":"ΤΥΜΠΑΚΙ","k":"AE 300mm","m":11,"v":41.5},{"st":"ΤΥΜΠΑΚΙ","k":"AE 300mm","m":12,"v":27.5},

{"st":"ΦΛΩΡΙΝΑ","k":"PE","m":1,"v":0},{"st":"ΦΛΩΡΙΝΑ","k":"PE","m":2,"v":6.5},{"st":"ΦΛΩΡΙΝΑ","k":"PE","m":3,"v":22},{"st":"ΦΛΩΡΙΝΑ","k":"PE","m":4,"v":50},{"st":"ΦΛΩΡΙΝΑ","k":"PE","m":5,"v":88.5},{"st":"ΦΛΩΡΙΝΑ","k":"PE","m":6,"v":121},{"st":"ΦΛΩΡΙΝΑ","k":"PE","m":7,"v":142.5},{"st":"ΦΛΩΡΙΝΑ","k":"PE","m":8,"v":129},{"st":"ΦΛΩΡΙΝΑ","k":"PE","m":9,"v":88},{"st":"ΦΛΩΡΙΝΑ","k":"PE","m":10,"v":52},{"st":"ΦΛΩΡΙΝΑ","k":"PE","m":11,"v":22},{"st":"ΦΛΩΡΙΝΑ","k":"PE","m":12,"v":7},
{"st":"ΦΛΩΡΙΝΑ","k":"AE 100mm","m":1,"v":0},{"st":"ΦΛΩΡΙΝΑ","k":"AE 100mm","m":2,"v":6.5},{"st":"ΦΛΩΡΙΝΑ","k":"AE 100mm","m":3,"v":22},{"st":"ΦΛΩΡΙΝΑ","k":"AE 100mm","m":4,"v":50},{"st":"ΦΛΩΡΙΝΑ","k":"AE 100mm","m":5,"v":86},{"st":"ΦΛΩΡΙΝΑ","k":"AE 100mm","m":6,"v":88},{"st":"ΦΛΩΡΙΝΑ","k":"AE 100mm","m":7,"v":62.5},{"st":"ΦΛΩΡΙΝΑ","k":"AE 100mm","m":8,"v":41},{"st":"ΦΛΩΡΙΝΑ","k":"AE 100mm","m":9,"v":47},{"st":"ΦΛΩΡΙΝΑ","k":"AE 100mm","m":10,"v":52},{"st":"ΦΛΩΡΙΝΑ","k":"AE 100mm","m":11,"v":22},{"st":"ΦΛΩΡΙΝΑ","k":"AE 100mm","m":12,"v":7},
{"st":"ΦΛΩΡΙΝΑ","k":"AE 150mm","m":1,"v":0},{"st":"ΦΛΩΡΙΝΑ","k":"AE 150mm","m":2,"v":6.5},{"st":"ΦΛΩΡΙΝΑ","k":"AE 150mm","m":3,"v":22},{"st":"ΦΛΩΡΙΝΑ","k":"AE 150mm","m":4,"v":50},{"st":"ΦΛΩΡΙΝΑ","k":"AE 150mm","m":5,"v":87.5},{"st":"ΦΛΩΡΙΝΑ","k":"AE 150mm","m":6,"v":96.5},{"st":"ΦΛΩΡΙΝΑ","k":"AE 150mm","m":7,"v":78},{"st":"ΦΛΩΡΙΝΑ","k":"AE 150mm","m":8,"v":52},{"st":"ΦΛΩΡΙΝΑ","k":"AE 150mm","m":9,"v":49.5},{"st":"ΦΛΩΡΙΝΑ","k":"AE 150mm","m":10,"v":52},{"st":"ΦΛΩΡΙΝΑ","k":"AE 150mm","m":11,"v":22},{"st":"ΦΛΩΡΙΝΑ","k":"AE 150mm","m":12,"v":7},
{"st":"ΦΛΩΡΙΝΑ","k":"AE 200mm","m":1,"v":0},{"st":"ΦΛΩΡΙΝΑ","k":"AE 200mm","m":2,"v":6.5},{"st":"ΦΛΩΡΙΝΑ","k":"AE 200mm","m":3,"v":22},{"st":"ΦΛΩΡΙΝΑ","k":"AE 200mm","m":4,"v":50},{"st":"ΦΛΩΡΙΝΑ","k":"AE 200mm","m":5,"v":88},{"st":"ΦΛΩΡΙΝΑ","k":"AE 200mm","m":6,"v":101},{"st":"ΦΛΩΡΙΝΑ","k":"AE 200mm","m":7,"v":88},{"st":"ΦΛΩΡΙΝΑ","k":"AE 200mm","m":8,"v":61.5},{"st":"ΦΛΩΡΙΝΑ","k":"AE 200mm","m":9,"v":54.5},{"st":"ΦΛΩΡΙΝΑ","k":"AE 200mm","m":10,"v":52},{"st":"ΦΛΩΡΙΝΑ","k":"AE 200mm","m":11,"v":22},{"st":"ΦΛΩΡΙΝΑ","k":"AE 200mm","m":12,"v":7},
{"st":"ΦΛΩΡΙΝΑ","k":"AE 300mm","m":1,"v":0},{"st":"ΦΛΩΡΙΝΑ","k":"AE 300mm","m":2,"v":6.5},{"st":"ΦΛΩΡΙΝΑ","k":"AE 300mm","m":3,"v":22},{"st":"ΦΛΩΡΙΝΑ","k":"AE 300mm","m":4,"v":50},{"st":"ΦΛΩΡΙΝΑ","k":"AE 300mm","m":5,"v":88.5},{"st":"ΦΛΩΡΙΝΑ","k":"AE 300mm","m":6,"v":108},{"st":"ΦΛΩΡΙΝΑ","k":"AE 300mm","m":7,"v":102},{"st":"ΦΛΩΡΙΝΑ","k":"AE 300mm","m":8,"v":75.5},{"st":"ΦΛΩΡΙΝΑ","k":"AE 300mm","m":9,"v":60.5},{"st":"ΦΛΩΡΙΝΑ","k":"AE 300mm","m":10,"v":52},{"st":"ΦΛΩΡΙΝΑ","k":"AE 300mm","m":11,"v":22},{"st":"ΦΛΩΡΙΝΑ","k":"AE 300mm","m":12,"v":7},

{"st":"ΦΟΥΡΝΟΙ","k":"PE","m":1,"v":19.5},{"st":"ΦΟΥΡΝΟΙ","k":"PE","m":2,"v":18.5},{"st":"ΦΟΥΡΝΟΙ","k":"PE","m":3,"v":31.5},{"st":"ΦΟΥΡΝΟΙ","k":"PE","m":4,"v":50.5},{"st":"ΦΟΥΡΝΟΙ","k":"PE","m":5,"v":92.5},{"st":"ΦΟΥΡΝΟΙ","k":"PE","m":6,"v":132.5},{"st":"ΦΟΥΡΝΟΙ","k":"PE","m":7,"v":150.5},{"st":"ΦΟΥΡΝΟΙ","k":"PE","m":8,"v":138.5},{"st":"ΦΟΥΡΝΟΙ","k":"PE","m":9,"v":103.5},{"st":"ΦΟΥΡΝΟΙ","k":"PE","m":10,"v":70},{"st":"ΦΟΥΡΝΟΙ","k":"PE","m":11,"v":37.5},{"st":"ΦΟΥΡΝΟΙ","k":"PE","m":12,"v":24},
{"st":"ΦΟΥΡΝΟΙ","k":"AE 100mm","m":1,"v":19.5},{"st":"ΦΟΥΡΝΟΙ","k":"AE 100mm","m":2,"v":18.5},{"st":"ΦΟΥΡΝΟΙ","k":"AE 100mm","m":3,"v":31.5},{"st":"ΦΟΥΡΝΟΙ","k":"AE 100mm","m":4,"v":50},{"st":"ΦΟΥΡΝΟΙ","k":"AE 100mm","m":5,"v":60},{"st":"ΦΟΥΡΝΟΙ","k":"AE 100mm","m":6,"v":37.5},{"st":"ΦΟΥΡΝΟΙ","k":"AE 100mm","m":7,"v":9.5},{"st":"ΦΟΥΡΝΟΙ","k":"AE 100mm","m":8,"v":2},{"st":"ΦΟΥΡΝΟΙ","k":"AE 100mm","m":9,"v":15},{"st":"ΦΟΥΡΝΟΙ","k":"AE 100mm","m":10,"v":53.5},{"st":"ΦΟΥΡΝΟΙ","k":"AE 100mm","m":11,"v":37.5},{"st":"ΦΟΥΡΝΟΙ","k":"AE 100mm","m":12,"v":24},
{"st":"ΦΟΥΡΝΟΙ","k":"AE 150mm","m":1,"v":19.5},{"st":"ΦΟΥΡΝΟΙ","k":"AE 150mm","m":2,"v":18.5},{"st":"ΦΟΥΡΝΟΙ","k":"AE 150mm","m":3,"v":31.5},{"st":"ΦΟΥΡΝΟΙ","k":"AE 150mm","m":4,"v":50},{"st":"ΦΟΥΡΝΟΙ","k":"AE 150mm","m":5,"v":68.5},{"st":"ΦΟΥΡΝΟΙ","k":"AE 150mm","m":6,"v":54.5},{"st":"ΦΟΥΡΝΟΙ","k":"AE 150mm","m":7,"v":24},{"st":"ΦΟΥΡΝΟΙ","k":"AE 150mm","m":8,"v":8.5},{"st":"ΦΟΥΡΝΟΙ","k":"AE 150mm","m":9,"v":15.5},{"st":"ΦΟΥΡΝΟΙ","k":"AE 150mm","m":10,"v":53.5},{"st":"ΦΟΥΡΝΟΙ","k":"AE 150mm","m":11,"v":37.5},{"st":"ΦΟΥΡΝΟΙ","k":"AE 150mm","m":12,"v":24},
{"st":"ΦΟΥΡΝΟΙ","k":"AE 200mm","m":1,"v":19.5},{"st":"ΦΟΥΡΝΟΙ","k":"AE 200mm","m":2,"v":18.5},{"st":"ΦΟΥΡΝΟΙ","k":"AE 200mm","m":3,"v":31.5},{"st":"ΦΟΥΡΝΟΙ","k":"AE 200mm","m":4,"v":50.5},{"st":"ΦΟΥΡΝΟΙ","k":"AE 200mm","m":5,"v":72.5},{"st":"ΦΟΥΡΝΟΙ","k":"AE 200mm","m":6,"v":66.5},{"st":"ΦΟΥΡΝΟΙ","k":"AE 200mm","m":7,"v":38},{"st":"ΦΟΥΡΝΟΙ","k":"AE 200mm","m":8,"v":16.5},{"st":"ΦΟΥΡΝΟΙ","k":"AE 200mm","m":9,"v":20},{"st":"ΦΟΥΡΝΟΙ","k":"AE 200mm","m":10,"v":54},{"st":"ΦΟΥΡΝΟΙ","k":"AE 200mm","m":11,"v":37.5},{"st":"ΦΟΥΡΝΟΙ","k":"AE 200mm","m":12,"v":24},
{"st":"ΦΟΥΡΝΟΙ","k":"AE 300mm","m":1,"v":19.5},{"st":"ΦΟΥΡΝΟΙ","k":"AE 300mm","m":2,"v":18.5},{"st":"ΦΟΥΡΝΟΙ","k":"AE 300mm","m":3,"v":31.5},{"st":"ΦΟΥΡΝΟΙ","k":"AE 300mm","m":4,"v":50.5},{"st":"ΦΟΥΡΝΟΙ","k":"AE 300mm","m":5,"v":79},{"st":"ΦΟΥΡΝΟΙ","k":"AE 300mm","m":6,"v":82.5},{"st":"ΦΟΥΡΝΟΙ","k":"AE 300mm","m":7,"v":59.5},{"st":"ΦΟΥΡΝΟΙ","k":"AE 300mm","m":8,"v":33.5},{"st":"ΦΟΥΡΝΟΙ","k":"AE 300mm","m":9,"v":27.5},{"st":"ΦΟΥΡΝΟΙ","k":"AE 300mm","m":10,"v":56.5},{"st":"ΦΟΥΡΝΟΙ","k":"AE 300mm","m":11,"v":37.5},{"st":"ΦΟΥΡΝΟΙ","k":"AE 300mm","m":12,"v":24},

{"st":"ΧΑΛΚΙΔΑ","k":"PE","m":1,"v":14.5},{"st":"ΧΑΛΚΙΔΑ","k":"PE","m":2,"v":14},{"st":"ΧΑΛΚΙΔΑ","k":"PE","m":3,"v":29},{"st":"ΧΑΛΚΙΔΑ","k":"PE","m":4,"v":56.5},{"st":"ΧΑΛΚΙΔΑ","k":"PE","m":5,"v":101.5},{"st":"ΧΑΛΚΙΔΑ","k":"PE","m":6,"v":155},{"st":"ΧΑΛΚΙΔΑ","k":"PE","m":7,"v":179.5},{"st":"ΧΑΛΚΙΔΑ","k":"PE","m":8,"v":165.5},{"st":"ΧΑΛΚΙΔΑ","k":"PE","m":9,"v":118},{"st":"ΧΑΛΚΙΔΑ","k":"PE","m":10,"v":72},{"st":"ΧΑΛΚΙΔΑ","k":"PE","m":11,"v":32},{"st":"ΧΑΛΚΙΔΑ","k":"PE","m":12,"v":18.5},
{"st":"ΧΑΛΚΙΔΑ","k":"AE 100mm","m":1,"v":14.5},{"st":"ΧΑΛΚΙΔΑ","k":"AE 100mm","m":2,"v":14},{"st":"ΧΑΛΚΙΔΑ","k":"AE 100mm","m":3,"v":29},{"st":"ΧΑΛΚΙΔΑ","k":"AE 100mm","m":4,"v":50},{"st":"ΧΑΛΚΙΔΑ","k":"AE 100mm","m":5,"v":68.5},{"st":"ΧΑΛΚΙΔΑ","k":"AE 100mm","m":6,"v":37},{"st":"ΧΑΛΚΙΔΑ","k":"AE 100mm","m":7,"v":10.5},{"st":"ΧΑΛΚΙΔΑ","k":"AE 100mm","m":8,"v":9.5},{"st":"ΧΑΛΚΙΔΑ","k":"AE 100mm","m":9,"v":1.5},{"st":"ΧΑΛΚΙΔΑ","k":"AE 100mm","m":10,"v":39},{"st":"ΧΑΛΚΙΔΑ","k":"AE 100mm","m":11,"v":32},{"st":"ΧΑΛΚΙΔΑ","k":"AE 100mm","m":12,"v":18.5},
{"st":"ΧΑΛΚΙΔΑ","k":"AE 150mm","m":1,"v":14.5},{"st":"ΧΑΛΚΙΔΑ","k":"AE 150mm","m":2,"v":14},{"st":"ΧΑΛΚΙΔΑ","k":"AE 150mm","m":3,"v":29},{"st":"ΧΑΛΚΙΔΑ","k":"AE 150mm","m":4,"v":55},{"st":"ΧΑΛΚΙΔΑ","k":"AE 150mm","m":5,"v":75},{"st":"ΧΑΛΚΙΔΑ","k":"AE 150mm","m":6,"v":55.5},{"st":"ΧΑΛΚΙΔΑ","k":"AE 150mm","m":7,"v":24},{"st":"ΧΑΛΚΙΔΑ","k":"AE 150mm","m":8,"v":14},{"st":"ΧΑΛΚΙΔΑ","k":"AE 150mm","m":9,"v":3.5},{"st":"ΧΑΛΚΙΔΑ","k":"AE 150mm","m":10,"v":39},{"st":"ΧΑΛΚΙΔΑ","k":"AE 150mm","m":11,"v":32},{"st":"ΧΑΛΚΙΔΑ","k":"AE 150mm","m":12,"v":18.5},
{"st":"ΧΑΛΚΙΔΑ","k":"AE 200mm","m":1,"v":14.5},{"st":"ΧΑΛΚΙΔΑ","k":"AE 200mm","m":2,"v":14},{"st":"ΧΑΛΚΙΔΑ","k":"AE 200mm","m":3,"v":29},{"st":"ΧΑΛΚΙΔΑ","k":"AE 200mm","m":4,"v":50.5},{"st":"ΧΑΛΚΙΔΑ","k":"AE 200mm","m":5,"v":71.5},{"st":"ΧΑΛΚΙΔΑ","k":"AE 200mm","m":6,"v":59.5},{"st":"ΧΑΛΚΙΔΑ","k":"AE 200mm","m":7,"v":32},{"st":"ΧΑΛΚΙΔΑ","k":"AE 200mm","m":8,"v":20.5},{"st":"ΧΑΛΚΙΔΑ","k":"AE 200mm","m":9,"v":5},{"st":"ΧΑΛΚΙΔΑ","k":"AE 200mm","m":10,"v":40},{"st":"ΧΑΛΚΙΔΑ","k":"AE 200mm","m":11,"v":32},{"st":"ΧΑΛΚΙΔΑ","k":"AE 200mm","m":12,"v":18.5},
{"st":"ΧΑΛΚΙΔΑ","k":"AE 300mm","m":1,"v":14.5},{"st":"ΧΑΛΚΙΔΑ","k":"AE 300mm","m":2,"v":14},{"st":"ΧΑΛΚΙΔΑ","k":"AE 300mm","m":3,"v":29},{"st":"ΧΑΛΚΙΔΑ","k":"AE 300mm","m":4,"v":45.5},{"st":"ΧΑΛΚΙΔΑ","k":"AE 300mm","m":5,"v":62.5},{"st":"ΧΑΛΚΙΔΑ","k":"AE 300mm","m":6,"v":60},{"st":"ΧΑΛΚΙΔΑ","k":"AE 300mm","m":7,"v":40},{"st":"ΧΑΛΚΙΔΑ","k":"AE 300mm","m":8,"v":28},{"st":"ΧΑΛΚΙΔΑ","k":"AE 300mm","m":9,"v":11},{"st":"ΧΑΛΚΙΔΑ","k":"AE 300mm","m":10,"v":49},{"st":"ΧΑΛΚΙΔΑ","k":"AE 300mm","m":11,"v":32},{"st":"ΧΑΛΚΙΔΑ","k":"AE 300mm","m":12,"v":18.5},

{"st":"ΧΑΝΙΑ","k":"PE","m":1,"v":23},{"st":"ΧΑΝΙΑ","k":"PE","m":2,"v":23},{"st":"ΧΑΝΙΑ","k":"PE","m":3,"v":35},{"st":"ΧΑΝΙΑ","k":"PE","m":4,"v":56.5},{"st":"ΧΑΝΙΑ","k":"PE","m":5,"v":93},{"st":"ΧΑΝΙΑ","k":"PE","m":6,"v":136},{"st":"ΧΑΝΙΑ","k":"PE","m":7,"v":160.5},{"st":"ΧΑΝΙΑ","k":"PE","m":8,"v":147},{"st":"ΧΑΝΙΑ","k":"PE","m":9,"v":105},{"st":"ΧΑΝΙΑ","k":"PE","m":10,"v":69.5},{"st":"ΧΑΝΙΑ","k":"PE","m":11,"v":43},{"st":"ΧΑΝΙΑ","k":"PE","m":12,"v":29},
{"st":"ΧΑΝΙΑ","k":"AE 100mm","m":1,"v":23},{"st":"ΧΑΝΙΑ","k":"AE 100mm","m":2,"v":23},{"st":"ΧΑΝΙΑ","k":"AE 100mm","m":3,"v":35},{"st":"ΧΑΝΙΑ","k":"AE 100mm","m":4,"v":52},{"st":"ΧΑΝΙΑ","k":"AE 100mm","m":5,"v":56.5},{"st":"ΧΑΝΙΑ","k":"AE 100mm","m":6,"v":33},{"st":"ΧΑΝΙΑ","k":"AE 100mm","m":7,"v":8},{"st":"ΧΑΝΙΑ","k":"AE 100mm","m":8,"v":4.5},{"st":"ΧΑΝΙΑ","k":"AE 100mm","m":9,"v":17},{"st":"ΧΑΝΙΑ","k":"AE 100mm","m":10,"v":69.5},{"st":"ΧΑΝΙΑ","k":"AE 100mm","m":11,"v":43},{"st":"ΧΑΝΙΑ","k":"AE 100mm","m":12,"v":29},
{"st":"ΧΑΝΙΑ","k":"AE 150mm","m":1,"v":23},{"st":"ΧΑΝΙΑ","k":"AE 150mm","m":2,"v":23},{"st":"ΧΑΝΙΑ","k":"AE 150mm","m":3,"v":35},{"st":"ΧΑΝΙΑ","k":"AE 150mm","m":4,"v":54},{"st":"ΧΑΝΙΑ","k":"AE 150mm","m":5,"v":67},{"st":"ΧΑΝΙΑ","k":"AE 150mm","m":6,"v":49.5},{"st":"ΧΑΝΙΑ","k":"AE 150mm","m":7,"v":22},{"st":"ΧΑΝΙΑ","k":"AE 150mm","m":8,"v":9.5},{"st":"ΧΑΝΙΑ","k":"AE 150mm","m":9,"v":18.5},{"st":"ΧΑΝΙΑ","k":"AE 150mm","m":10,"v":69.5},{"st":"ΧΑΝΙΑ","k":"AE 150mm","m":11,"v":43},{"st":"ΧΑΝΙΑ","k":"AE 150mm","m":12,"v":29},
{"st":"ΧΑΝΙΑ","k":"AE 200mm","m":1,"v":23},{"st":"ΧΑΝΙΑ","k":"AE 200mm","m":2,"v":23},{"st":"ΧΑΝΙΑ","k":"AE 200mm","m":3,"v":35},{"st":"ΧΑΝΙΑ","k":"AE 200mm","m":4,"v":54.5},{"st":"ΧΑΝΙΑ","k":"AE 200mm","m":5,"v":71},{"st":"ΧΑΝΙΑ","k":"AE 200mm","m":6,"v":62.5},{"st":"ΧΑΝΙΑ","k":"AE 200mm","m":7,"v":35},{"st":"ΧΑΝΙΑ","k":"AE 200mm","m":8,"v":16.5},{"st":"ΧΑΝΙΑ","k":"AE 200mm","m":9,"v":22.5},{"st":"ΧΑΝΙΑ","k":"AE 200mm","m":10,"v":69.5},{"st":"ΧΑΝΙΑ","k":"AE 200mm","m":11,"v":43},{"st":"ΧΑΝΙΑ","k":"AE 200mm","m":12,"v":29},
{"st":"ΧΑΝΙΑ","k":"AE 300mm","m":1,"v":23},{"st":"ΧΑΝΙΑ","k":"AE 300mm","m":2,"v":23},{"st":"ΧΑΝΙΑ","k":"AE 300mm","m":3,"v":35},{"st":"ΧΑΝΙΑ","k":"AE 300mm","m":4,"v":55},{"st":"ΧΑΝΙΑ","k":"AE 300mm","m":5,"v":78},{"st":"ΧΑΝΙΑ","k":"AE 300mm","m":6,"v":81.5},{"st":"ΧΑΝΙΑ","k":"AE 300mm","m":7,"v":57.5},{"st":"ΧΑΝΙΑ","k":"AE 300mm","m":8,"v":33.5},{"st":"ΧΑΝΙΑ","k":"AE 300mm","m":9,"v":30.5},{"st":"ΧΑΝΙΑ","k":"AE 300mm","m":10,"v":69.5},{"st":"ΧΑΝΙΑ","k":"AE 300mm","m":11,"v":43},{"st":"ΧΑΝΙΑ","k":"AE 300mm","m":12,"v":29}
]},
"data": {"name": "d"},
"columns": 3,
"spacing": {"row": 39, "column": 41},
"bounds": "flush",
"resolve": {"scale": {"color": "shared"}},
"config": {
  "view": {"stroke": null},
  "font": "DejaVu Sans",
  "axis": {"grid": false, "domainColor": "#000", "tickColor": "#000", "labelColor": "#000", "titleColor": "#000", "labelFont": "DejaVu Sans", "titleFont": "DejaVu Sans", "labelFontSize": 18, "titleFontSize": 18, "tickSize": 6, "domainWidth": 1.2, "tickWidth": 1.2, "labelFlush": false, "labelOverlap": false},
  "title": {"font": "DejaVu Sans", "fontSize": 22.5, "fontWeight": "bold", "color": "#000", "anchor": "middle", "frame": "group", "baseline": "middle", "offset": 0},
  "legend": {"labelFont": "DejaVu Sans", "labelFontSize": 18, "labelColor": "#000", "padding": 0}
},
"concat": [
{"title": {"text": "ΣΠΑΤΑ", "dx": 0, "dy": 20}, "width": 297, "height": 289,
 "transform": [{"filter": {"field": "st", "equal": "ΣΠΑΤΑ"}}],
 "mark": {"type": "line", "interpolate": "cardinal", "strokeWidth": 2.75, "point": {"filled": true, "size": 110, "opacity": 1}},
 "encoding": {
  "x": {"field": "m", "type": "quantitative", "scale": {"domain": [1, 12], "nice": false, "zero": false}, "axis": {"values": [1,2,3,4,5,6,7,8,9,10,11,12], "labels": false, "title": null}},
  "y": {"field": "v", "type": "quantitative", "scale": {"domain": [0, 200], "nice": false}, "axis": {"values": [0,50,100,150,200], "title": "PE ή AE (mm)", "titleFontWeight": "bold", "labelPadding": 10, "titlePadding": 8}},
  "color": {"field": "k", "type": "nominal", "sort": null, "scale": {"domain": ["PE","AE 100mm","AE 150mm","AE 200mm","AE 300mm"], "range": ["#5B9BD5","#ED7D31","#A5A5A5","#FFC000","#4472C4"]},
   "legend": {"title": null, "orient": "none", "direction": "horizontal", "legendX": 137, "legendY": -58, "symbolType": "M-1.52,0L1.52,0M-0.45,0A0.45,0.45,0,1,1,0.45,0A0.45,0.45,0,1,1,-0.45,0Z", "symbolSize": 529, "symbolStrokeWidth": 2.75, "labelOffset": 14, "columnPadding": 0, "encode": {"symbols": {"update": {"fill": {"scale": "color", "field": "value"}, "stroke": {"scale": "color", "field": "value"}, "fillOpacity": {"value": 1}, "opacity": {"value": 1}}}}}}
 }},
{"title": {"text": "ΣΠΕΤΣΕΣ", "dx": 29, "dy": 22}, "width": 297, "height": 289,
 "transform": [{"filter": {"field": "st", "equal": "ΣΠΕΤΣΕΣ"}}],
 "mark": {"type": "line", "interpolate": "cardinal", "strokeWidth": 2.75, "point": {"filled": true, "size": 110, "opacity": 1}},
 "encoding": {
  "x": {"field": "m", "type": "quantitative", "scale": {"domain": [1, 12], "nice": false, "zero": false}, "axis": {"values": [1,2,3,4,5,6,7,8,9,10,11,12], "labels": false, "title": null}},
  "y": {"field": "v", "type": "quantitative", "scale": {"domain": [0, 200], "nice": false}, "axis": {"values": [0,50,100,150,200], "labels": false, "title": null}},
  "color": {"field": "k", "type": "nominal", "sort": null}
 }},
{"title": {"text": "ΣΤΕΦΑΝΙ ΕΥΡΥΤΑΝΙΑΣ", "dx": 8, "dy": 30}, "width": 297, "height": 289,
 "transform": [{"filter": {"field": "st", "equal": "ΣΤΕΦΑΝΙ ΕΥΡΥΤΑΝΙΑΣ"}}],
 "mark": {"type": "line", "interpolate": "cardinal", "strokeWidth": 2.75, "point": {"filled": true, "size": 110, "opacity": 1}},
 "encoding": {
  "x": {"field": "m", "type": "quantitative", "scale": {"domain": [1, 12], "nice": false, "zero": false}, "axis": {"values": [1,2,3,4,5,6,7,8,9,10,11,12], "labels": false, "title": null}},
  "y": {"field": "v", "type": "quantitative", "scale": {"domain": [0, 200], "nice": false}, "axis": {"values": [0,50,100,150,200], "labels": false, "title": null}},
  "color": {"field": "k", "type": "nominal", "sort": null}
 }},
{"title": {"text": "ΣΥΡΟΣ", "dx": 0, "dy": 28}, "width": 297, "height": 289,
 "transform": [{"filter": {"field": "st", "equal": "ΣΥΡΟΣ"}}],
 "mark": {"type": "line", "interpolate": "cardinal", "strokeWidth": 2.75, "point": {"filled": true, "size": 110, "opacity": 1}},
 "encoding": {
  "x": {"field": "m", "type": "quantitative", "scale": {"domain": [1, 12], "nice": false, "zero": false}, "axis": {"values": [1,2,3,4,5,6,7,8,9,10,11,12], "labels": false, "title": null}},
  "y": {"field": "v", "type": "quantitative", "scale": {"domain": [0, 200], "nice": false}, "axis": {"values": [0,50,100,150,200], "title": "PE ή AE (mm)", "titleFontWeight": "bold", "labelPadding": 10, "titlePadding": 8}},
  "color": {"field": "k", "type": "nominal", "sort": null}
 }},
{"title": {"text": "ΤΑΝΑΓΡΑ", "dx": 13, "dy": 21}, "width": 297, "height": 289,
 "transform": [{"filter": {"field": "st", "equal": "ΤΑΝΑΓΡΑ"}}],
 "mark": {"type": "line", "interpolate": "cardinal", "strokeWidth": 2.75, "point": {"filled": true, "size": 110, "opacity": 1}},
 "encoding": {
  "x": {"field": "m", "type": "quantitative", "scale": {"domain": [1, 12], "nice": false, "zero": false}, "axis": {"values": [1,2,3,4,5,6,7,8,9,10,11,12], "labels": false, "title": null}},
  "y": {"field": "v", "type": "quantitative", "scale": {"domain": [0, 200], "nice": false}, "axis": {"values": [0,50,100,150,200], "labels": false, "title": null}},
  "color": {"field": "k", "type": "nominal", "sort": null}
 }},
{"title": {"text": "ΤΡΙΚΑΛΑ ΘΕΣΣΑΛΙΑΣ", "dx": 8, "dy": 20}, "width": 297, "height": 289,
 "transform": [{"filter": {"field": "st", "equal": "ΤΡΙΚΑΛΑ ΘΕΣΣΑΛΙΑΣ"}}],
 "mark": {"type": "line", "interpolate": "cardinal", "strokeWidth": 2.75, "point": {"filled": true, "size": 110, "opacity": 1}},
 "encoding": {
  "x": {"field": "m", "type": "quantitative", "scale": {"domain": [1, 12], "nice": false, "zero": false}, "axis": {"values": [1,2,3,4,5,6,7,8,9,10,11,12], "labels": false, "title": null}},
  "y": {"field": "v", "type": "quantitative", "scale": {"domain": [0, 200], "nice": false}, "axis": {"values": [0,50,100,150,200], "labels": false, "title": null}},
  "color": {"field": "k", "type": "nominal", "sort": null}
 }},
{"title": {"text": "ΤΡΙΠΟΛΗ", "dx": 9, "dy": 51}, "width": 297, "height": 289,
 "transform": [{"filter": {"field": "st", "equal": "ΤΡΙΠΟΛΗ"}}],
 "mark": {"type": "line", "interpolate": "cardinal", "strokeWidth": 2.75, "point": {"filled": true, "size": 110, "opacity": 1}},
 "encoding": {
  "x": {"field": "m", "type": "quantitative", "scale": {"domain": [1, 12], "nice": false, "zero": false}, "axis": {"values": [1,2,3,4,5,6,7,8,9,10,11,12], "labels": false, "title": null}},
  "y": {"field": "v", "type": "quantitative", "scale": {"domain": [0, 200], "nice": false}, "axis": {"values": [0,50,100,150,200], "title": "PE ή AE (mm)", "titleFontWeight": "bold", "labelPadding": 10, "titlePadding": 8}},
  "color": {"field": "k", "type": "nominal", "sort": null}
 }},
{"title": {"text": "ΤΥΜΠΑΚΙ", "dx": 14, "dy": 23}, "width": 297, "height": 289,
 "transform": [{"filter": {"field": "st", "equal": "ΤΥΜΠΑΚΙ"}}],
 "mark": {"type": "line", "interpolate": "cardinal", "strokeWidth": 2.75, "point": {"filled": true, "size": 110, "opacity": 1}},
 "encoding": {
  "x": {"field": "m", "type": "quantitative", "scale": {"domain": [1, 12], "nice": false, "zero": false}, "axis": {"values": [1,2,3,4,5,6,7,8,9,10,11,12], "labels": false, "title": null}},
  "y": {"field": "v", "type": "quantitative", "scale": {"domain": [0, 200], "nice": false}, "axis": {"values": [0,50,100,150,200], "labels": false, "title": null}},
  "color": {"field": "k", "type": "nominal", "sort": null}
 }},
{"title": {"text": "ΦΛΩΡΙΝΑ", "dx": 14, "dy": 31}, "width": 297, "height": 289,
 "transform": [{"filter": {"field": "st", "equal": "ΦΛΩΡΙΝΑ"}}],
 "mark": {"type": "line", "interpolate": "cardinal", "strokeWidth": 2.75, "point": {"filled": true, "size": 110, "opacity": 1}},
 "encoding": {
  "x": {"field": "m", "type": "quantitative", "scale": {"domain": [1, 12], "nice": false, "zero": false}, "axis": {"values": [1,2,3,4,5,6,7,8,9,10,11,12], "labels": false, "title": null}},
  "y": {"field": "v", "type": "quantitative", "scale": {"domain": [0, 200], "nice": false}, "axis": {"values": [0,50,100,150,200], "labels": false, "title": null}},
  "color": {"field": "k", "type": "nominal", "sort": null}
 }},
{"title": {"text": "ΦΟΥΡΝΟΙ", "dx": 23, "dy": 53}, "width": 297, "height": 289,
 "transform": [{"filter": {"field": "st", "equal": "ΦΟΥΡΝΟΙ"}}],
 "mark": {"type": "line", "interpolate": "cardinal", "strokeWidth": 2.75, "point": {"filled": true, "size": 110, "opacity": 1}},
 "encoding": {
  "x": {"field": "m", "type": "quantitative", "scale": {"domain": [1, 12], "nice": false, "zero": false}, "axis": {"values": [1,2,3,4,5,6,7,8,9,10,11,12], "format": "d", "title": "Μήνας", "titleFontWeight": "normal", "labelPadding": 13, "titlePadding": 11}},
  "y": {"field": "v", "type": "quantitative", "scale": {"domain": [0, 200], "nice": false}, "axis": {"values": [0,50,100,150,200], "title": "PE ή AE (mm)", "titleFontWeight": "bold", "labelPadding": 10, "titlePadding": 8}},
  "color": {"field": "k", "type": "nominal", "sort": null}
 }},
{"title": {"text": "ΧΑΛΚΙΔΑ", "dx": 12, "dy": 19}, "width": 297, "height": 289,
 "transform": [{"filter": {"field": "st", "equal": "ΧΑΛΚΙΔΑ"}}],
 "mark": {"type": "line", "interpolate": "cardinal", "strokeWidth": 2.75, "point": {"filled": true, "size": 110, "opacity": 1}},
 "encoding": {
  "x": {"field": "m", "type": "quantitative", "scale": {"domain": [1, 12], "nice": false, "zero": false}, "axis": {"values": [1,2,3,4,5,6,7,8,9,10,11,12], "format": "d", "title": "Μήνας", "titleFontWeight": "normal", "labelPadding": 13, "titlePadding": 11}},
  "y": {"field": "v", "type": "quantitative", "scale": {"domain": [0, 200], "nice": false}, "axis": {"values": [0,50,100,150,200], "labels": false, "title": null}},
  "color": {"field": "k", "type": "nominal", "sort": null}
 }},
{"title": {"text": "ΧΑΝΙΑ", "dx": 4, "dy": 36}, "width": 297, "height": 289,
 "transform": [{"filter": {"field": "st", "equal": "ΧΑΝΙΑ"}}],
 "mark": {"type": "line", "interpolate": "cardinal", "strokeWidth": 2.75, "point": {"filled": true, "size": 110, "opacity": 1}},
 "encoding": {
  "x": {"field": "m", "type": "quantitative", "scale": {"domain": [1, 12], "nice": false, "zero": false}, "axis": {"values": [1,2,3,4,5,6,7,8,9,10,11,12], "format": "d", "title": "Μήνας", "titleFontWeight": "normal", "labelPadding": 13, "titlePadding": 11}},
  "y": {"field": "v", "type": "quantitative", "scale": {"domain": [0, 200], "nice": false}, "axis": {"values": [0,50,100,150,200], "labels": false, "title": null}},
  "color": {"field": "k", "type": "nominal", "sort": null}
 }}
]
}
